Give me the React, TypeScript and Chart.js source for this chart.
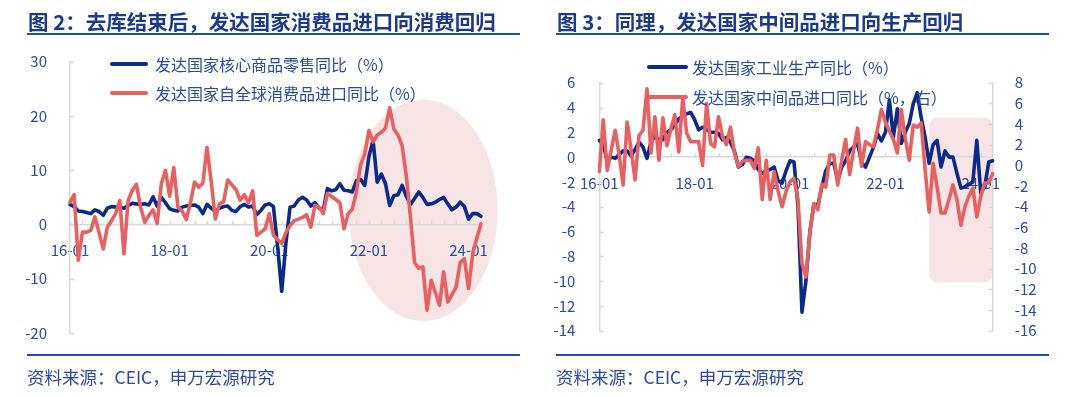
import React, { useEffect, useRef } from 'react';
import { Chart, registerables } from 'chart.js';

Chart.register(...registerables);

// ---------- categories ----------
const MONTHS: string[] = [];
for (let y = 16; y <= 24; y++) {
  for (let m = 1; m <= 12; m++) {
    if (y === 24 && m > 4) break;
    MONTHS.push(`${y}-${String(m).padStart(2, '0')}`);
  }
}

// ---------- Fig 2 series ----------
const coreGoodsRetailYoY = [
  3.7, 3.3, 2.5, 2.4, 2.2, 2.0, 2.7, 2.4, 1.7, 3.0,
  3.3, 3.2, 3.2, 3.0, 3.5, 3.9, 3.8, 3.7, 3.8, 3.6,
  5.1, 3.4, 5.0, 4.0, 2.9, 2.6, 2.5, 3.2, 3.4, 3.5,
  3.6, 3.2, 2.0, 3.7, 3.0, 2.5, 3.0, 3.3, 3.4, 2.6,
  2.4, 3.3, 3.7, 3.2, 3.4, 1.8, 2.6, 3.6, 3.8, 3.3,
  -4.0, -12.3, -3.5, 3.2, 3.4, 4.5, 5.0, 4.5, 3.4, 4.0,
  3.0, 2.6, 6.6, 6.2, 6.4, 7.5, 6.3, 6.2, 6.0, 8.1,
  8.3, 7.2, 12.5, 15.5, 7.8, 9.3, 7.5, 3.5, 5.3, 5.5,
  7.2, 5.2, 3.7, 4.8, 6.0, 5.0, 3.7, 3.8, 4.1, 4.6,
  5.0, 3.8, 2.7, 3.2, 4.1, 3.3, 1.0, 2.0, 2.0, 1.5,
];
const consumerImportsYoY = [
  4.1, 5.5, -6.6, -1.4, -1.4, -1.1, 1.4, -1.5, -4.5, -0.5,
  0.7, 2.0, 4.4, -5.4, 4.4, 6.3, 7.4, 3.2, 0.4, 1.7,
  2.7, 0.2, 7.5, 10.0, 5.2, 10.5, 3.2, 2.5, 0.9, 4.0,
  7.8, 6.9, 7.6, 14.2, 8.0, 1.0, 3.8, 4.2, 8.2, 7.3,
  6.4, 4.5, 5.5, 4.0, 6.2, -2.0, -1.4, -0.8, 2.0, -2.0,
  -2.8, -3.5, -1.5, -0.2, 0.7, 1.0, 1.3, 1.8, -0.5, 3.5,
  3.2, 2.0, 5.7, 5.2, 4.6, 4.0, -0.8, 2.0, 2.8, 6.0,
  11.0, 13.0, 17.3, 15.2, 16.5, 17.0, 17.8, 21.5, 17.6, 16.5,
  14.5, 9.0, 1.4, -7.0, -8.1, -7.8, -15.8, -10.3, -12.5, -14.9,
  -8.7, -14.3, -13.0, -11.5, -7.0, -6.3, -11.8, -5.4, -2.5, 0.1,
];

// ---------- Fig 3 series ----------
const industrialProductionYoY = [
  1.35, 1.0, -0.3, 0.0, -0.1, 0.2, 0.5, 0.5, 0.1, 0.6,
  1.2, 0.8, -0.1, 1.2, 1.7, 1.4, 1.4, 2.0, 2.2, 2.6,
  3.1, 3.3, 3.5, 3.6, 3.0, 2.2, 2.4, 2.2, 2.0, 2.0,
  1.9, 1.4, 1.6, 1.2, 0.5, -0.8, -0.6, 0.0, -0.1, -0.3,
  -1.0, -1.3, -1.1, -1.0, -0.8, -1.9, -2.1, -1.1, -0.3, -0.4,
  -4.0, -12.5, -10.0, -6.0, -3.8, -3.9, -2.4, -1.1, -0.5, -0.5,
  -1.9, -0.8, -0.3, 0.5, 0.8, 1.1, -0.4, -0.8, 0.0, 0.8,
  1.9, 1.3, 2.0, 4.6, 1.6, 3.9, 1.1, 2.0, 2.7, 4.3,
  5.2, 3.2, 1.6, -0.5, 1.0, 1.35, -0.8, 0.5, 0.0, 0.0,
  -1.3, -2.5, -2.4, -2.2, -2.0, 1.35, -2.9, -2.4, -0.4, -0.3,
];
const intermediateImportsYoY = [
  -0.6, 4.4, -0.5, 1.5, 3.4, 1.0, -1.9, 4.2, 1.5, -1.4,
  2.9, 3.4, 7.4, 1.2, 4.7, 0.5, 4.6, 1.9, 3.5, 4.9,
  1.3, 6.5, 3.1, 2.3, 2.3, 2.3, 0.0, 6.0, 2.1, 1.8,
  4.7, 2.8, 2.0, 3.7, 1.2, -0.1, 0.4, 0.5, 0.5, -0.3,
  1.7, -3.3, 0.5, -3.3, -0.6, -2.5, -4.0, -2.5, -1.6, -1.25,
  -3.3, -9.5, -10.8, -6.5, -3.7, -4.3, -1.8, -2.1, 1.0, 1.0,
  -1.9, 0.5, 2.5, -0.9, 1.5, 3.6, -0.1, 2.3, 2.0, 1.8,
  3.5, 5.4, 4.2, 3.3, 2.5, 1.2, 5.4, 2.6, 0.5, 3.9,
  3.7, 4.1, -0.45, -4.5, 0.2, -2.1, -4.6, -4.6, -3.3, -1.9,
  -3.3, -5.8, -4.0, -3.0, -2.2, -5.0, -3.0, -1.7, -1.7, -0.8,
];

const LEGEND_FIG2 = ['发达国家核心商品零售同比（%）', '发达国家自全球消费品进口同比（%）'];
const LEGEND_FIG3 = ['发达国家工业生产同比（%）', '发达国家中间品进口同比（%，右）'];

const BLUE = '#0b2b8c';
const RED = '#e8605f';
const PINK = '#f7e4e4';
const AXIS_GREY = '#d9d9d9';
const TEXT_BLUE = '#2a4b9f';
const TITLE_BLUE = '#1b3a8a';
const RULE_BLUE = '#2150a0';
const FONT = '"Noto Sans CJK SC", "Noto Sans", sans-serif';

Chart.defaults.font.family = FONT;

const innerTicksPlugin = {
  id: 'innerTicks',
  beforeDatasetsDraw(chart: any, _args: any, opts: any) {
    const { ctx } = chart;
    ctx.save();
    ctx.strokeStyle = AXIS_GREY;
    ctx.lineWidth = 1.5;
    ctx.beginPath();
    Object.values(chart.scales).forEach((s: any) => {
      if (s.axis === 'y') {
        const isLeft = s.position === 'left';
        const x0 = isLeft ? s.right : s.left;
        const dir = isLeft ? 1 : -1;
        s.ticks.forEach((_t: any, i: number) => {
          const y = Math.round(s.getPixelForTick(i)) + 0.5;
          ctx.moveTo(x0, y);
          ctx.lineTo(x0 + dir * 4, y);
        });
      }
    });
    const xs = chart.scales.x;
    const y0 = chart.scales.y.getPixelForValue(0);
    for (let i = 0; i < MONTHS.length; i += opts.every) {
      const x = Math.round(xs.getPixelForValue(i)) + 0.5;
      ctx.moveTo(x, y0);
      ctx.lineTo(x, y0 - 4);
    }
    ctx.stroke();
    ctx.restore();
  },
};

const highlightPlugin = {
  id: 'highlight',
  beforeDraw(chart: any, _args: any, opts: any) {
    const { ctx } = chart;
    const xs = chart.scales.x;
    const ys = chart.scales.y;
    ctx.save();
    ctx.fillStyle = PINK;
    if (opts.kind === 'ellipse') {
      const cx = xs.getPixelForValue(opts.cx);
      const rx = xs.getPixelForValue(opts.cx + opts.rx) - cx;
      const cy = ys.getPixelForValue(opts.cy);
      const ry = ys.getPixelForValue(opts.cy - opts.ry) - cy;
      ctx.beginPath();
      ctx.ellipse(cx, cy, rx, ry, 0, 0, Math.PI * 2);
      ctx.fill();
    } else {
      const x1 = xs.getPixelForValue(opts.x1);
      const x2 = xs.getPixelForValue(opts.x2);
      const y1 = ys.getPixelForValue(opts.y1);
      const y2 = ys.getPixelForValue(opts.y2);
      ctx.beginPath();
      ctx.roundRect(x1, y1, x2 - x1, y2 - y1, 9);
      ctx.fill();
    }
    ctx.restore();
  },
};

const tickFont = { size: 15 };

function xAxis() {
  return {
    type: 'category',
    position: { y: 0 },
    offset: false,
    grid: { display: false },
    border: { display: true, color: AXIS_GREY, width: 1.5 },
    ticks: {
      autoSkip: false,
      maxRotation: 0,
      padding: 9,
      color: TEXT_BLUE,
      font: tickFont,
      callback: (_v: any, i: number) => (i % 24 === 0 ? MONTHS[i] : ''),
    },
  };
}

function lineDataset(label: string, data: number[], color: string, order: number, yAxisID = 'y') {
  return {
    label,
    data,
    borderColor: color,
    backgroundColor: color,
    borderWidth: 3.6,
    pointRadius: 0,
    tension: 0,
    borderJoinStyle: 'round',
    borderCapStyle: 'round',
    order,
    yAxisID,
  };
}

function Fig2Chart() {
  const ref = useRef<HTMLCanvasElement>(null);
  useEffect(() => {
    const chart = new Chart(ref.current as HTMLCanvasElement, {
      type: 'line',
      data: {
        labels: MONTHS,
        datasets: [
          lineDataset(LEGEND_FIG2[0], coreGoodsRetailYoY, BLUE, 1) as any,
          lineDataset(LEGEND_FIG2[1], consumerImportsYoY, RED, 0) as any,
        ],
      },
      options: {
        responsive: false,
        animation: false,
        devicePixelRatio: 1,
        layout: { padding: { top: 61.7, bottom: 64, left: 0, right: 59 } },
        plugins: {
          legend: { display: false },
          tooltip: { enabled: false },
          innerTicks: { every: 3 },
          highlight: { kind: 'ellipse', cx: 85.1, rx: 17.9, cy: 2.6, ry: 20.4 },
        } as any,
        scales: {
          x: xAxis() as any,
          y: {
            min: -20,
            max: 30,
            grid: { display: false },
            border: { display: true, color: AXIS_GREY, width: 1.5 },
            ticks: { stepSize: 10, autoSkip: false, padding: 15, color: TEXT_BLUE, font: tickFont },
            afterFit: (s: any) => { s.width = 70; },
          },
        },
      },
      plugins: [highlightPlugin, innerTicksPlugin],
    });
    return () => chart.destroy();
  }, []);
  return <canvas ref={ref} width={540} height={397} style={{ position: 'absolute', left: 0, top: 0 }} />;
}

function Fig3Chart() {
  const ref = useRef<HTMLCanvasElement>(null);
  useEffect(() => {
    const chart = new Chart(ref.current as HTMLCanvasElement, {
      type: 'line',
      data: {
        labels: MONTHS,
        datasets: [
          lineDataset(LEGEND_FIG3[0], industrialProductionYoY, BLUE, 1, 'y') as any,
          lineDataset(LEGEND_FIG3[1], intermediateImportsYoY, RED, 0, 'y1') as any,
        ],
      },
      options: {
        responsive: false,
        animation: false,
        devicePixelRatio: 1,
        layout: { padding: { top: 82.7, bottom: 66.3, left: 0, right: 0 } },
        plugins: {
          legend: { display: false },
          tooltip: { enabled: false },
          innerTicks: { every: 6 },
          highlight: { kind: 'rect', x1: 83, x2: 99.1, y1: 3.2, y2: -10.1 },
        } as any,
        scales: {
          x: xAxis() as any,
          y: {
            position: 'left',
            min: -14,
            max: 6,
            grid: { display: false },
            border: { display: true, color: AXIS_GREY, width: 1.5 },
            ticks: { stepSize: 2, autoSkip: false, padding: 16, color: TEXT_BLUE, font: tickFont },
            afterFit: (s: any) => { s.width = 59.3; },
          },
          y1: {
            position: 'right',
            min: -16,
            max: 8,
            grid: { display: false },
            border: { display: true, color: AXIS_GREY, width: 1.5 },
            ticks: { stepSize: 2, autoSkip: false, padding: 14, color: TEXT_BLUE, font: tickFont },
            afterFit: (s: any) => { s.width = 87.3; },
          },
        },
      },
      plugins: [highlightPlugin, innerTicksPlugin],
    });
    return () => chart.destroy();
  }, []);
  return <canvas ref={ref} width={540} height={397} style={{ position: 'absolute', left: 540, top: 0 }} />;
}

const abs = (o: React.CSSProperties): React.CSSProperties => ({ position: 'absolute', ...o });

function Legend({ left, textLeft, width, centers, labels }: { left: number; textLeft: number; width: number; centers: number[]; labels: string[] }) {
  const colors = [BLUE, RED];
  return (
    <>
      {labels.map((t, i) => (
        <React.Fragment key={t}>
          <div style={abs({ left, top: centers[i] - 2, width, height: 4, background: colors[i], borderRadius: 2 })} />
          <div style={abs({ left: textLeft, top: centers[i] - 11, height: 22, lineHeight: '22px', fontSize: 16, color: TEXT_BLUE, whiteSpace: 'nowrap', fontFamily: FONT })}>{t}</div>
        </React.Fragment>
      ))}
    </>
  );
}

function Panel({ x, title }: { x: number; title: string }) {
  return (
    <>
      <div style={abs({ left: x + 1, top: 8, height: 26, lineHeight: '26px', fontSize: 20.5, fontWeight: 700, color: TITLE_BLUE, whiteSpace: 'nowrap', fontFamily: FONT })}>{title}</div>
      <div style={abs({ left: x, top: 33, width: 493, height: 2.2, background: RULE_BLUE })} />
      <div style={abs({ left: x, top: 354, width: 493, height: 2.2, background: RULE_BLUE })} />
      <div style={abs({ left: x, top: 366, height: 22, lineHeight: '22px', fontSize: 17.5, color: TEXT_BLUE, whiteSpace: 'nowrap', fontFamily: FONT })}>资料来源：CEIC，申万宏源研究</div>
    </>
  );
}

export default function App() {
  return (
    <div style={{ position: 'absolute', left: 0, top: 0, width: 1080, height: 397, background: '#ffffff', overflow: 'hidden' }}>
      <Fig2Chart />
      <Fig3Chart />
      <Panel x={27} title="图 2：去库结束后，发达国家消费品进口向消费回归" />
      <Panel x={556} title="图 3：同理，发达国家中间品进口向生产回归" />
      <Legend left={110} textLeft={155} width={38} centers={[64, 93]} labels={LEGEND_FIG2} />
      <Legend left={647} textLeft={692} width={41} centers={[67, 97]} labels={LEGEND_FIG3} />
    </div>
  );
}
